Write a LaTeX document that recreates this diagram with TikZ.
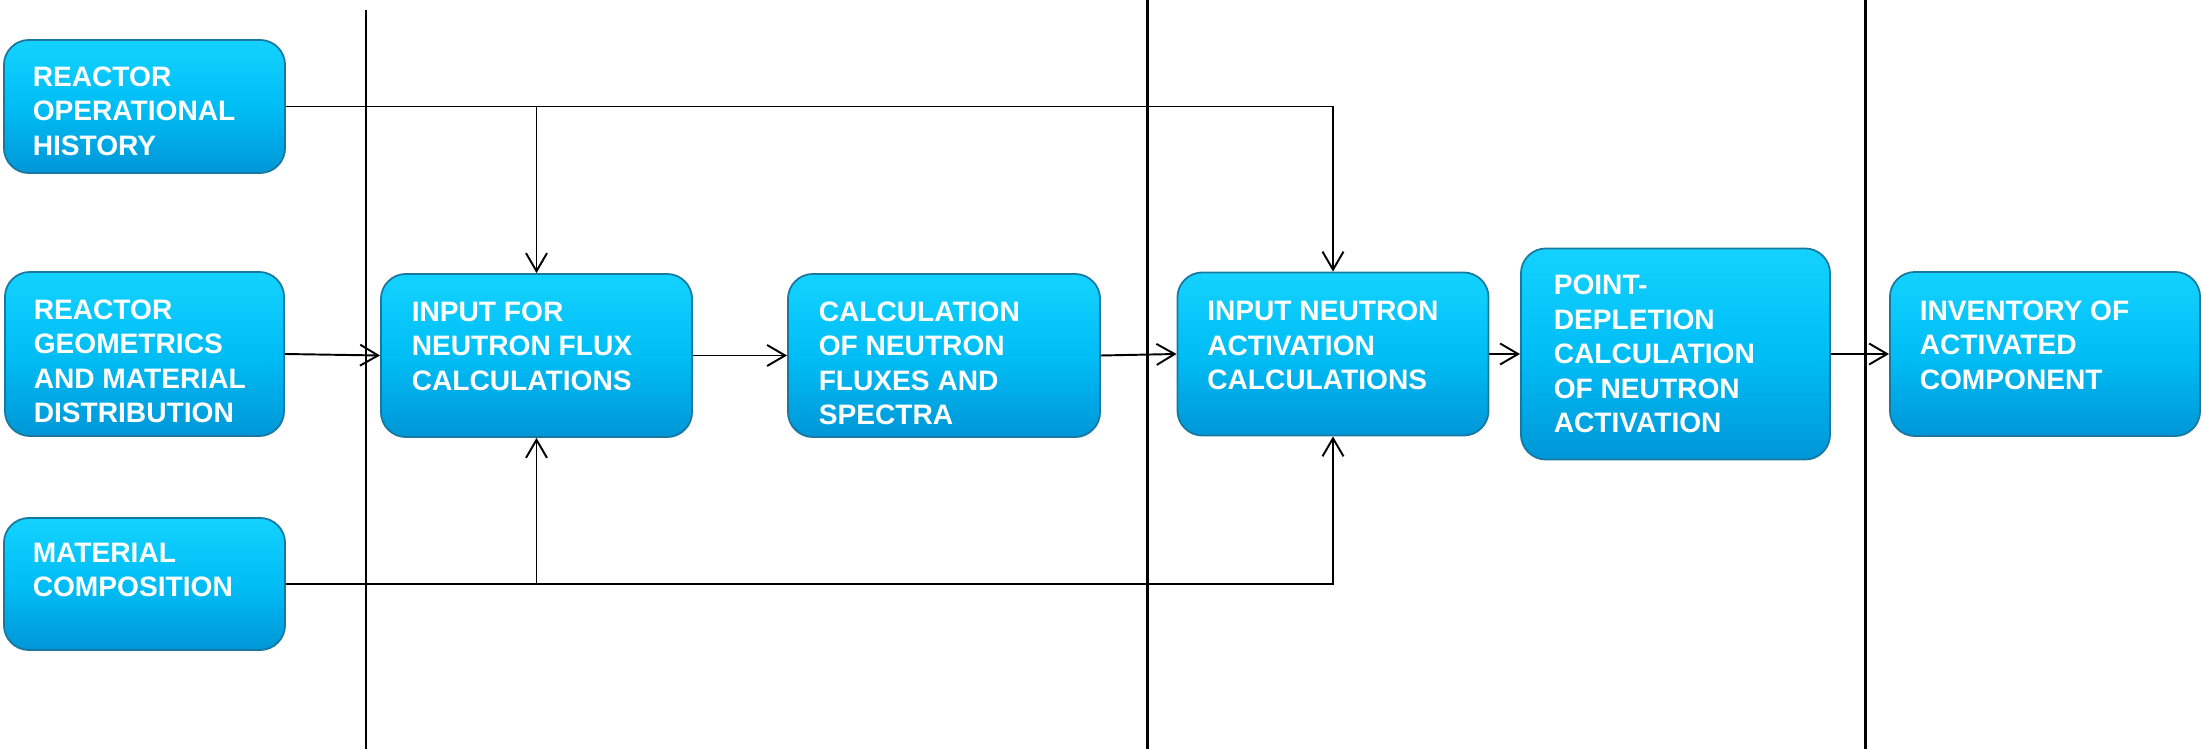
\documentclass[tikz,border=0pt]{standalone}
\usepackage{fontspec}
\setmainfont{Liberation Sans}
\usetikzlibrary{arrows.meta}
\definecolor{boxtop}{RGB}{20,210,255}
\definecolor{boxbot}{RGB}{0,150,215}
\definecolor{boxedge}{RGB}{25,120,160}
\tikzset{
  blk/.style={rounded corners=0.25cm, top color=boxtop, bottom color=boxbot,
    middle color={rgb,255:red,0;green,190;blue,245}, draw=boxedge, line width=0.5pt},
  lbl/.style={anchor=north west, inner sep=0pt, align=left, text=white,
    font=\bfseries\fontsize{8}{9.8}\selectfont},
  conn/.style={line width=0.55pt, -{Straight Barb[length=0.18cm,width=0.21cm,line width=0.55pt]}},
  sep/.style={line width=0.85pt}
}
\begin{document}
\begin{tikzpicture}[x=0.01cm,y=-0.01cm]
\useasboundingbox (0,0) rectangle (2202,749);
% separators
\draw[sep] (366,10) -- (366,749);
\draw[sep] (1147,0) -- (1147,749);
\draw[sep] (1865,0) -- (1865,749);
% boxes
\node[blk, minimum width=2.81cm, minimum height=1.33cm] (b1) at (144.5,106.5) {};
\node[blk, minimum width=2.79cm, minimum height=1.64cm] (b2) at (144.5,354) {};
\node[blk, minimum width=2.81cm, minimum height=1.32cm] (b3) at (144.5,584) {};
\node[blk, minimum width=3.11cm, minimum height=1.63cm] (b4) at (536.5,355.5) {};
\node[blk, minimum width=3.12cm, minimum height=1.63cm] (b5) at (944,355.5) {};
\node[blk, minimum width=3.11cm, minimum height=1.63cm] (b6) at (1333,354) {};
\node[blk, minimum width=3.09cm, minimum height=2.11cm] (b7) at (1675.5,354) {};
\node[blk, minimum width=3.10cm, minimum height=1.64cm] (b8) at (2045,354) {};
% labels
\node[lbl] (t1) at ([xshift=0.29cm,yshift=-0.27cm]b1.north west) {REACTOR\\OPERATIONAL\\HISTORY};
\node[lbl] (t2) at ([xshift=0.29cm,yshift=-0.28cm]b2.north west) {REACTOR\\GEOMETRICS\\AND MATERIAL\\DISTRIBUTION};
\node[lbl] (t3) at ([xshift=0.29cm,yshift=-0.25cm]b3.north west) {MATERIAL\\COMPOSITION};
\node[lbl] (t4) at ([xshift=0.31cm,yshift=-0.28cm]b4.north west) {INPUT FOR\\NEUTRON FLUX\\CALCULATIONS};
\node[lbl] (t5) at ([xshift=0.31cm,yshift=-0.28cm]b5.north west) {CALCULATION\\OF NEUTRON\\FLUXES AND\\SPECTRA};
\node[lbl] (t6) at ([xshift=0.30cm,yshift=-0.29cm]b6.north west) {INPUT NEUTRON\\ACTIVATION\\CALCULATIONS};
\node[lbl] (t7) at ([xshift=0.33cm,yshift=-0.27cm]b7.north west) {POINT-\\DEPLETION\\CALCULATION\\OF NEUTRON\\ACTIVATION};
\node[lbl] (t8) at ([xshift=0.30cm,yshift=-0.29cm]b8.north west) {INVENTORY OF\\ACTIVATED\\COMPONENT};
% connectors
\draw[conn] (b1.east) -- (b1.east -| b6.north) -- (b6.north);
\draw[conn] (b1.east -| b4.north) -- (b4.north);
\draw[conn] (b3.east) -- (b3.east -| b6.south) -- (b6.south);
\draw[conn] (b3.east -| b4.south) -- (b4.south);
\draw[conn] (b2.east) -- (b4.west);
\draw[conn] (b4.east) -- (b5.west);
\draw[conn] (b5.east) -- (b6.west);
\draw[conn] (b6.east) -- (b7.west);
\draw[conn] (b7.east) -- (b8.west);
\end{tikzpicture}
\end{document}
